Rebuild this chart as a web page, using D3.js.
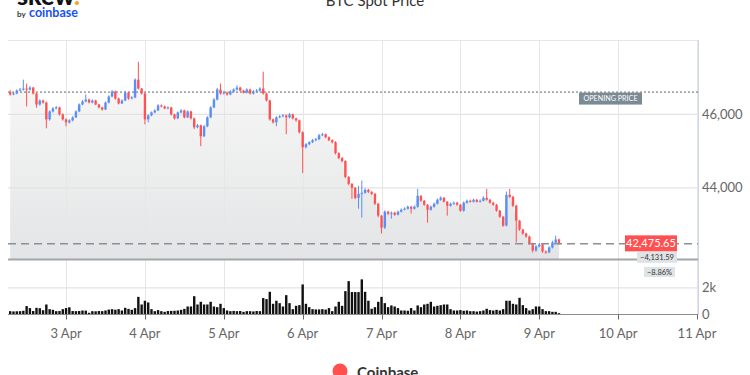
<!DOCTYPE html>
<html>
<head>
<meta charset="utf-8">
<script src="https://cdn.jsdelivr.net/npm/d3@7"></script>
<style>
  body { margin: 0; background: #fff; font-family: Lato, "Open Sans", sans-serif; }
  svg { display: block; }
</style>
</head>
<body>
<div id="chart"></div>
<script>
// === Data (hourly BTC candles, Coinbase) ===
const firstCandle = Date.UTC(2022, 3, 2, 7);   // 2 Apr 07:00 UTC
const openingPrice = 46607.24;
const dayTicks = ["2022-04-03", "2022-04-04", "2022-04-05", "2022-04-06", "2022-04-07",
                  "2022-04-08", "2022-04-09", "2022-04-10", "2022-04-11"];
const priceTicks = [44000, 46000];
const volumeTicks = [0, 2000];

// [open, high, low, close]
const ohlc = [
  [46607.24,46660,46510,46541],[46541,46600,46520,46568],[46568,46680,46550,46649],[46649,46720,46630,46676],
  [46676,46946,46650,46703],[46703,46840,46216,46676],[46676,46770,46650,46730],[46730,46750,46540,46568],
  [46568,46590,46180,46270],[46270,46410,46240,46378],[46378,46400,46290,46324],[46324,46350,45622,45865],
  [45865,46110,45830,46081],[46081,46200,46050,46162],[46162,46230,46140,46189],[46189,46210,45970,46000],
  [46000,46030,45830,45865],[45865,45890,45676,45784],[45784,45870,45750,45838],[45838,45950,45810,45919],
  [45919,46110,45900,46081],[46081,46300,46060,46270],[46270,46390,46250,46351],[46351,46541,46330,46405],
  [46405,46430,46300,46324],[46324,46410,46300,46378],[46378,46400,46250,46270],[46270,46290,46160,46189],
  [46189,46210,46100,46135],[46135,46350,46120,46324],[46324,46520,46300,46487],[46487,46660,46470,46622],
  [46622,46650,46400,46432],[46432,46460,46270,46297],[46297,46410,46280,46378],[46378,46640,46360,46595],
  [46595,46610,46400,46432],[46432,46500,46410,46460],[46460,46980,46440,46946],[46946,47433,46680,46703],
  [46703,46720,46540,46568],[46568,46590,45730,45865],[45865,46000,45784,45973],[45973,46080,45950,46054],
  [46054,46140,46030,46108],[46108,46280,46090,46243],[46243,46270,46190,46216],[46216,46240,46140,46162],
  [46162,46220,46140,46189],[46189,46210,45970,46000],[46000,46020,45860,45892],[45892,46080,45870,46054],
  [46054,46140,46030,46108],[46108,46130,45890,45919],[45919,46110,45900,46081],[46081,46100,45860,45892],
  [45892,45910,45600,45649],[45649,45740,45620,45703],[45703,45720,45135,45405],[45405,45710,45380,45676],
  [45676,45950,45650,45919],[45919,46220,45900,46189],[46189,46440,46170,46405],[46405,46720,46380,46676],
  [46676,46838,46540,46568],[46568,46640,46540,46595],[46595,46620,46510,46541],[46541,46660,46520,46622],
  [46622,46710,46600,46676],[46676,46790,46650,46730],[46730,46750,46620,46649],[46649,46670,46570,46595],
  [46595,46710,46570,46676],[46676,46700,46540,46568],[46568,46660,46540,46622],[46622,46690,46600,46649],
  [46649,46740,46620,46703],[46703,47162,46540,46568],[46568,46590,46350,46378],[46378,46400,45830,45865],
  [45865,45890,45750,45784],[45784,45950,45676,45919],[45919,45980,45900,45946],[45946,46010,45920,45973],
  [45973,46000,45459,45919],[45919,46040,45890,46000],[46000,46020,45860,45892],[45892,45910,45800,45838],
  [45838,45860,45480,45513],[45513,45540,44405,45108],[45108,45220,45070,45189],[45189,45270,45160,45243],
  [45243,45330,45220,45297],[45297,45360,45270,45324],[45324,45470,45300,45432],[45432,45500,45410,45459],
  [45459,45480,45350,45378],[45378,45400,45270,45297],[45297,45320,45210,45243],[45243,45270,44910,44946],
  [44946,44970,44780,44811],[44811,44840,44690,44730],[44730,44750,44260,44297],[44297,44320,44070,44108],
  [44108,44130,43703,44000],[44000,44020,43690,43730],[43730,44054,43432,43838],[43838,44200,43189,43865],
  [43865,43990,43840,43946],[43946,43970,43860,43892],[43892,43910,43800,43838],[43838,43860,43530,43568],
  [43568,43590,43200,43243],[43243,43260,42757,42919],[42919,43390,42880,43351],[43351,43380,43260,43297],
  [43297,43360,43162,43324],[43324,43350,43240,43270],[43270,43380,43250,43351],[43351,43440,43330,43405],
  [43405,43470,43390,43432],[43432,43520,43410,43486],[43486,43510,43300,43432],[43432,43520,43410,43486],
  [43486,43973,43460,43784],[43784,43800,43620,43649],[43649,43670,43510,43541],[43541,43560,43054,43405],
  [43405,43520,43380,43486],[43486,43600,43460,43568],[43568,43710,43550,43676],[43676,43770,43650,43730],
  [43730,43750,43600,43622],[43622,43640,43243,43514],[43514,43600,43490,43568],[43568,43630,43540,43595],
  [43595,43620,43510,43541],[43541,43560,43350,43378],[43378,43630,43350,43595],[43595,43680,43570,43649],
  [43649,43680,43600,43622],[43622,43710,43600,43676],[43676,43700,43600,43622],[43622,43690,43600,43649],
  [43649,43770,43630,43730],[43730,43973,43650,43676],[43676,43700,43570,43595],[43595,43620,43510,43541],
  [43541,43560,43350,43378],[43378,43400,43180,43216],[43216,43240,42940,42973],[42973,43900,42950,43811],
  [43811,43973,43720,43757],[43757,43780,43480,43514],[43514,43540,42514,43108],[43108,43130,42830,42865],
  [42865,42890,42720,42757],[42757,42780,42640,42676],[42676,42700,42450,42486],[42486,42510,42240,42297],
  [42297,42440,42260,42405],[42405,42500,42380,42459],[42459,42480,42230,42270],[42270,42300,42200,42243],
  [42243,42410,42220,42378],[42378,42560,42350,42514],[42514,42700,42490,42595],[42595,42620,42450,42475.65]
];

const volumes = [
  250,230,240,250,280,630,480,260,500,470,320,750,400,350,250,260,400,480,540,260,250,260,300,290,
  130,250,240,260,250,300,370,400,360,400,300,500,420,350,480,1320,750,1030,900,400,250,330,250,200,
  260,270,280,300,350,420,600,600,1370,750,950,750,750,950,600,550,800,480,300,250,270,250,260,200,
  250,250,230,260,250,1230,1150,1700,800,1030,850,600,1450,850,400,650,700,2250,800,550,400,380,380,400,
  370,480,250,600,950,650,1750,2500,1680,1680,1680,2630,1700,1030,430,550,950,1320,850,550,680,600,480,300,
  300,280,480,300,680,550,750,800,950,600,650,700,750,750,400,300,300,330,280,300,250,250,220,250,
  300,430,330,300,350,300,400,1030,1030,800,750,1250,700,480,300,400,600,600,400,250,250,200,200,100
];

const candles = ohlc.map((d, i) => ({
  t: new Date(firstCandle + i * 3600e3),
  o: d[0], h: d[1], l: d[2], c: d[3], v: volumes[i]
}));

// === Layout ===
const W = 750, H = 375;
const plot = { left: 8, right: 698, top: 40, priceBottom: 259.5, volTop: 260, volBottom: 314.5 };

const svg = d3.select("#chart").append("svg").attr("width", W).attr("height", H);

const x = d3.scaleUtc()
  .domain([new Date("2022-04-02T06:20:00Z"), new Date("2022-04-11T00:00:00Z")])
  .range([plot.left, 697]);
const y = d3.scaleLinear().domain([42050, 48025]).range([plot.priceBottom, plot.top]);
const yv = d3.scaleLinear().domain([0, 4080]).range([plot.volBottom, plot.volTop]);

const RED = "#ff5252", BLUE = "#5b8ff5";
const fmt = d3.format(",.2f");

// gradient for the area under the price
const defs = svg.append("defs");
const grad = defs.append("linearGradient").attr("id", "areaGrad")
  .attr("gradientUnits", "userSpaceOnUse")
  .attr("x1", 0).attr("x2", 0).attr("y1", plot.top).attr("y2", plot.priceBottom);
grad.append("stop").attr("offset", "0%").attr("stop-color", "#fbfbfb");
grad.append("stop").attr("offset", "100%").attr("stop-color", "#e3e4e5");

// === Grid ===
const ticks = dayTicks.map(s => new Date(s + "T00:00:00Z"));
svg.append("line").attr("x1", plot.left).attr("x2", plot.right)
  .attr("y1", plot.top + 0.5).attr("y2", plot.top + 0.5).attr("stroke", "#e6e6e6");

svg.append("path")
  .datum(candles)
  .attr("fill", "url(#areaGrad)")
  .attr("d", d3.area().x(d => x(d.t)).y0(plot.priceBottom).y1(d => y(d.c)));

svg.selectAll(".vgrid").data(ticks).join("line")
  .attr("class", "vgrid")
  .attr("x1", d => Math.round(x(d)) + 0.5).attr("x2", d => Math.round(x(d)) + 0.5)
  .attr("y1", plot.top).attr("y2", plot.volBottom)
  .attr("stroke", "#e6e6e6");

svg.selectAll(".hgrid").data(priceTicks).join("line")
  .attr("class", "hgrid")
  .attr("x1", plot.left).attr("x2", plot.right)
  .attr("y1", d => y(d)).attr("y2", d => y(d))
  .attr("stroke", "#e3e3e3").attr("stroke-width", 1.2);

svg.selectAll(".vhgrid").data(volumeTicks.slice(1)).join("line")
  .attr("class", "vhgrid")
  .attr("x1", plot.left).attr("x2", plot.right)
  .attr("y1", d => yv(d)).attr("y2", d => yv(d))
  .attr("stroke", "#e3e3e3").attr("stroke-width", 1.2);

// opening price line
svg.append("line").attr("x1", plot.left).attr("x2", plot.right)
  .attr("y1", y(openingPrice)).attr("y2", y(openingPrice))
  .attr("stroke", "#666").attr("stroke-dasharray", "2,2");

// === Candles ===
const bw = 2.4;
const cg = svg.append("g");
cg.selectAll(".wick").data(candles).join("line")
  .attr("class", "wick")
  .attr("x1", d => x(d.t)).attr("x2", d => x(d.t))
  .attr("y1", d => y(d.h)).attr("y2", d => y(d.l))
  .attr("stroke", d => d.c >= d.o ? BLUE : RED).attr("stroke-width", 1);
cg.selectAll(".body").data(candles).join("rect")
  .attr("class", "body")
  .attr("x", d => x(d.t) - bw / 2).attr("width", bw)
  .attr("y", d => y(Math.max(d.o, d.c)))
  .attr("height", d => Math.max(1, Math.abs(y(d.o) - y(d.c))))
  .attr("fill", d => d.c >= d.o ? BLUE : RED);

// === Volume ===
svg.selectAll(".vol").data(candles).join("rect")
  .attr("class", "vol")
  .attr("x", d => x(d.t) - 1.2).attr("width", 2.4)
  .attr("y", d => yv(d.v)).attr("height", d => yv(0) - yv(d.v))
  .attr("fill", "#111");

// === Current price / change ===
const last = candles[candles.length - 1].c;
const change = last - openingPrice;

svg.append("line").attr("x1", plot.left).attr("x2", plot.right)
  .attr("y1", y(last)).attr("y2", y(last))
  .attr("stroke", "#8a9096").attr("stroke-width", 1.5).attr("stroke-dasharray", "8,5");

svg.append("line").attr("x1", plot.left).attr("x2", plot.right)
  .attr("y1", plot.priceBottom).attr("y2", plot.priceBottom)
  .attr("stroke", "#a3a6a9").attr("stroke-width", 2);

// axis lines
svg.append("line").attr("x1", plot.left).attr("x2", plot.right)
  .attr("y1", plot.volBottom).attr("y2", plot.volBottom).attr("stroke", "#8c8c8c");
svg.append("line").attr("x1", plot.right + 0.5).attr("x2", plot.right + 0.5)
  .attr("y1", plot.top).attr("y2", plot.volBottom).attr("stroke", "#ccd6eb");

// tag helper
function tag(cx, cy, w, h, fill, color, size, label) {
  const g = svg.append("g");
  g.append("rect").attr("x", cx - w / 2).attr("y", cy - h / 2)
    .attr("width", w).attr("height", h).attr("fill", fill);
  g.append("text").attr("x", cx).attr("y", cy).attr("dy", "0.35em")
    .attr("text-anchor", "middle").attr("fill", color)
    .attr("font-size", size).text(label);
}
tag(610.5, y(openingPrice) + 6.5, 63, 12, "#7b8b96", "#fff", 7.2, "OPENING PRICE");
tag(651, y(last) - 0.5, 52, 16, "#ff4f4f", "#fff", 11, fmt(last));
tag(657, 257.3, 40, 11, "#dfe3e6", "#333", 7.5, fmt(change));
tag(659.5, 272, 31, 10, "#dfe3e6", "#333", 7.5, d3.format(".2f")(change / openingPrice * 100) + "%");

// === Axis labels ===
svg.selectAll(".ptick").data(priceTicks).join("text")
  .attr("class", "ptick")
  .attr("x", 702).attr("y", d => y(d)).attr("dy", "0.35em")
  .attr("font-size", 13).attr("fill", "#666")
  .text(d => d3.format(",")(d));
svg.selectAll(".vtick").data(volumeTicks).join("text")
  .attr("class", "vtick")
  .attr("x", 702).attr("y", d => yv(d)).attr("dy", "0.35em")
  .attr("font-size", 13).attr("fill", "#666")
  .text(d => d === 0 ? "0" : d / 1000 + "k");

svg.selectAll(".xtickmark").data(ticks).join("line")
  .attr("class", "xtickmark")
  .attr("x1", d => Math.round(x(d)) + 0.5).attr("x2", d => Math.round(x(d)) + 0.5)
  .attr("y1", plot.volBottom).attr("y2", plot.volBottom + 5)
  .attr("stroke", "#666");
svg.selectAll(".xtick").data(ticks).join("text")
  .attr("class", "xtick")
  .attr("x", d => x(d)).attr("y", 338)
  .attr("text-anchor", "middle").attr("font-size", 13).attr("fill", "#666")
  .text(d3.utcFormat("%-d %b"));

// === Title, logo, legend ===
svg.append("text").attr("x", 375).attr("y", 6).attr("text-anchor", "middle")
  .attr("font-size", 15).attr("fill", "#333").text("BTC Spot Price");

const logo = svg.append("text").attr("x", 17).attr("y", 4.5)
  .attr("font-size", 25).attr("font-weight", 900).attr("fill", "#111");
logo.append("tspan").text("skew");
logo.append("tspan").attr("fill", "#f5a623").text(".");
svg.append("text").attr("x", 17).attr("y", 17).attr("font-size", 8).attr("font-weight", 700)
  .attr("fill", "#333").text("by");
svg.append("text").attr("x", 29).attr("y", 17).attr("font-size", 12.5).attr("font-weight", 700)
  .attr("fill", "#1652f0").text("coinbase");

svg.append("circle").attr("cx", 340).attr("cy", 371).attr("r", 7.5).attr("fill", "#ff4f4f");
svg.append("text").attr("x", 357).attr("y", 378).attr("font-size", 15).attr("font-weight", 700)
  .attr("fill", "#333").text("Coinbase");
</script>
</body>
</html>
